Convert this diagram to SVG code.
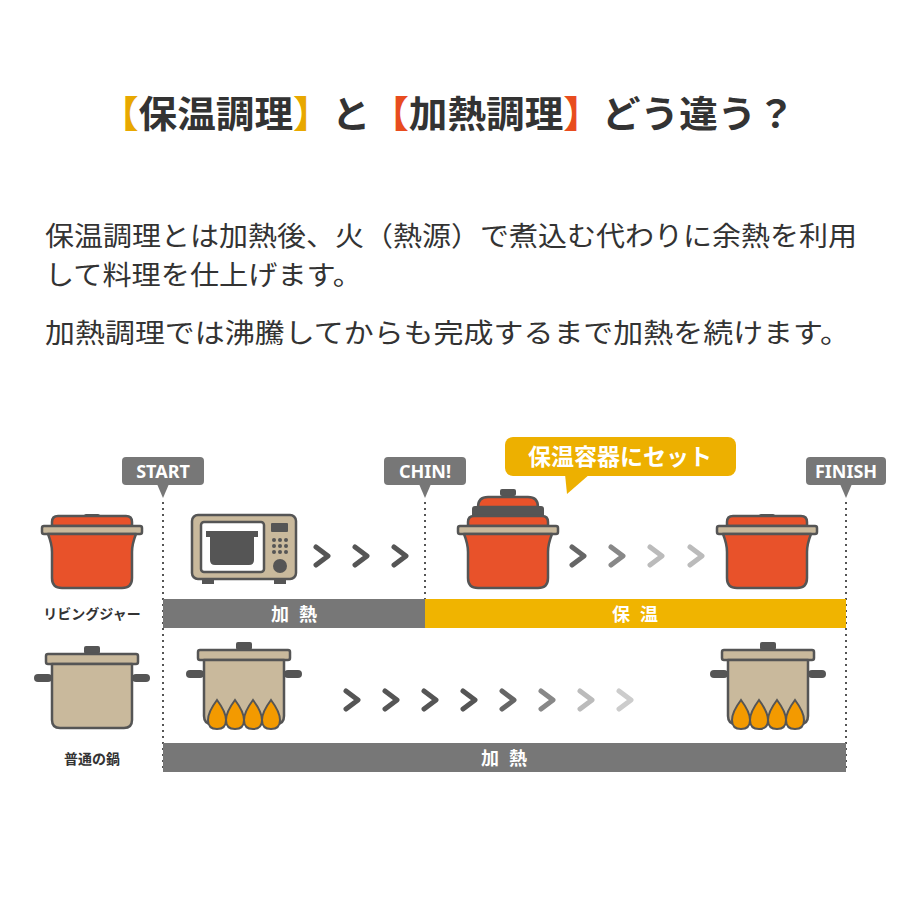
<svg xmlns="http://www.w3.org/2000/svg" width="900" height="900" viewBox="0 0 900 900" xmlns:xlink="http://www.w3.org/1999/xlink">
<style>
.t{font-family:"Noto Sans CJK JP","Noto Sans",sans-serif}
.title{font-size:37px;font-weight:bold;fill:#333}
.body{font-size:27px;fill:#333}
.tag{font-family:"Noto Sans","Liberation Sans",sans-serif;font-size:18px;font-weight:bold;fill:#fff}
.bar{font-size:18px;font-weight:bold;fill:#fff;letter-spacing:10px}
.lbl{font-size:14px;font-weight:bold;fill:#333}
.ol{stroke:#555;stroke-width:2.5;stroke-linejoin:round}
.dot{stroke:#555;stroke-width:2;stroke-dasharray:2 4}
.chev{fill:none;stroke-width:5;stroke-linecap:round;stroke-linejoin:round}
</style>
<defs>
<g id="jar">
<rect x="-8" y="-38" width="16" height="8" rx="2" fill="#555"/>
<path d="M-40 -30 Q-40 -36 -34 -36 H34 Q40 -36 40 -30 V-26 H-40Z" fill="#e8522a" class="ol"/>
<rect x="-50" y="-26" width="100" height="8" rx="2" fill="#c9b99c" class="ol"/>
<path d="M-44 -18 H44 Q40 -8 40 0 V26 Q40 36 30 36 H-30 Q-40 36 -40 26 V0 Q-40 -8 -44 -18Z" fill="#e8522a" class="ol"/>
</g>
<g id="pot">
<rect x="-8" y="-42" width="16" height="8" rx="2" fill="#555"/>
<rect x="-46" y="-34" width="92" height="10" rx="2" fill="#c9b99c" class="ol"/>
<rect x="-58" y="-14" width="18" height="8" rx="4" fill="#555"/>
<rect x="40" y="-14" width="18" height="8" rx="4" fill="#555"/>
<path d="M-40 -24 H40 V32 Q40 40 32 40 H-32 Q-40 40 -40 32Z" fill="#c9b99c" class="ol"/>
</g>
<g id="flames">
<g fill="#f39a00" stroke="#555" stroke-width="2">
<path id="fl" d="M-27 16 Q-36 28 -36 36 Q-36 45 -27 45 Q-18 45 -18 36 Q-18 28 -27 16Z"/>
<use xlink:href="#fl" x="18"/><use xlink:href="#fl" x="36"/><use xlink:href="#fl" x="54"/>
</g>
</g>
<path id="cv" d="M-6 -9 L6 0 L-6 9"/>
</defs>

<text class="t title" x="100" y="128" textLength="695" lengthAdjust="spacingAndGlyphs"><tspan fill="#e8a800">【</tspan>保温調理<tspan fill="#e8a800">】</tspan>と<tspan fill="#e84c1e">【</tspan>加熱調理<tspan fill="#e84c1e">】</tspan>どう違う？</text>

<text class="t body" x="45" y="246" textLength="812" lengthAdjust="spacingAndGlyphs">保温調理とは加熱後、火（熱源）で煮込む代わりに余熱を利用</text>
<text class="t body" x="45" y="285" textLength="317" lengthAdjust="spacingAndGlyphs">して料理を仕上げます。</text>
<text class="t body" x="45" y="343" textLength="805" lengthAdjust="spacingAndGlyphs">加熱調理では沸騰してからも完成するまで加熱を続けます。</text>

<g id="connectors">
<line class="dot" x1="163" y1="502" x2="163" y2="772"/>
<line class="dot" x1="425" y1="502" x2="425" y2="628"/>
<line class="dot" x1="846" y1="502" x2="846" y2="772"/>
<g class="chev" stroke="#555">
<use xlink:href="#cv" x="322" y="556"/><use xlink:href="#cv" x="361" y="556"/><use xlink:href="#cv" x="400" y="556"/>
</g>
<g class="chev">
<use xlink:href="#cv" x="578" y="556" stroke="#666"/><use xlink:href="#cv" x="617" y="556" stroke="#888"/><use xlink:href="#cv" x="656" y="556" stroke="#bbb"/><use xlink:href="#cv" x="696" y="556" stroke="#bbb"/>
</g>
<g class="chev">
<use xlink:href="#cv" x="352" y="700" stroke="#555"/><use xlink:href="#cv" x="391" y="700" stroke="#555"/><use xlink:href="#cv" x="430" y="700" stroke="#555"/><use xlink:href="#cv" x="469" y="700" stroke="#555"/><use xlink:href="#cv" x="508" y="700" stroke="#666"/><use xlink:href="#cv" x="547" y="700" stroke="#888"/><use xlink:href="#cv" x="586" y="700" stroke="#bbb"/><use xlink:href="#cv" x="625" y="700" stroke="#ccc"/>
</g>
</g>

<g id="tag-start"><rect x="122" y="457" width="82" height="28" rx="4" fill="#777"/><path d="M157 484 L163 498 L169 484Z" fill="#777"/><text class="tag" x="163" y="478" text-anchor="middle">START</text></g>
<g id="tag-chin"><rect x="384" y="457" width="82" height="28" rx="4" fill="#777"/><path d="M419 484 L425 498 L431 484Z" fill="#777"/><text class="tag" x="425" y="478" text-anchor="middle">CHIN!</text></g>
<g id="tag-finish"><rect x="806" y="457" width="80" height="28" rx="4" fill="#777"/><path d="M840 484 L846 498 L852 484Z" fill="#777"/><text class="tag" x="846" y="478" text-anchor="middle">FINISH</text></g>
<g id="callout"><rect x="505" y="437" width="231" height="39" rx="8" fill="#edb000"/><path d="M565 474 L567 494 L590 474Z" fill="#edb000"/><text class="t" x="620" y="465" text-anchor="middle" font-size="23" font-weight="bold" fill="#fff">保温容器にセット</text></g>

<g id="bar-heat1"><rect x="163" y="599" width="262" height="29" fill="#777"/><text class="t bar" x="299" y="621" text-anchor="middle">加熱</text></g>
<g id="bar-keep"><rect x="425" y="599" width="421" height="29" fill="#f0b400"/><text class="t bar" x="640" y="621" text-anchor="middle">保温</text></g>
<g id="bar-heat2"><rect x="163" y="743" width="683" height="29" fill="#777"/><text class="t bar" x="509" y="765" text-anchor="middle">加熱</text></g>

<g id="jar-left"><use xlink:href="#jar" x="92" y="552"/><text class="t lbl" x="92" y="619" text-anchor="middle">リビングジャー</text></g>
<g id="microwave">
<rect x="192" y="515" width="104" height="64" rx="6" fill="#c9b99c" class="ol"/>
<rect x="201" y="522" width="63" height="50" rx="3" fill="#fff" class="ol"/>
<rect x="206" y="531" width="52" height="6" fill="#555"/>
<path d="M210 537 H254 V560 Q254 565 249 565 H215 Q210 565 210 560Z" fill="#555"/>
<rect x="271" y="523" width="17" height="9" rx="1" fill="#555"/>
<g fill="#555"><circle cx="274" cy="540" r="2"/><circle cx="280" cy="540" r="2"/><circle cx="286" cy="540" r="2"/><circle cx="274" cy="546" r="2"/><circle cx="280" cy="546" r="2"/><circle cx="286" cy="546" r="2"/><circle cx="274" cy="552" r="2"/><circle cx="280" cy="552" r="2"/><circle cx="286" cy="552" r="2"/></g>
<circle cx="280" cy="566" r="7" fill="#555"/>
<rect x="202" y="579" width="12" height="5" fill="#555"/><rect x="274" y="579" width="12" height="5" fill="#555"/>
</g>
<g id="jar-set">
<rect x="500" y="489" width="16" height="7" rx="2" fill="#555"/>
<path d="M478 507 Q478 497 488 497 H528 Q538 497 538 507Z" fill="#e8522a" class="ol"/>
<rect x="472" y="506" width="72" height="12" rx="3" fill="#555"/>
<use xlink:href="#jar" x="508" y="552"/>
</g>
<g id="jar-right"><use xlink:href="#jar" x="767" y="552"/></g>

<g id="pot-left"><use xlink:href="#pot" x="92" y="688"/><text class="t lbl" x="92" y="764" text-anchor="middle">普通の鍋</text></g>
<g id="pot-fire1"><use xlink:href="#pot" x="244" y="684"/><use xlink:href="#flames" x="244" y="684"/></g>
<g id="pot-fire2"><use xlink:href="#pot" x="768" y="684"/><use xlink:href="#flames" x="768" y="684"/></g>
</svg>
